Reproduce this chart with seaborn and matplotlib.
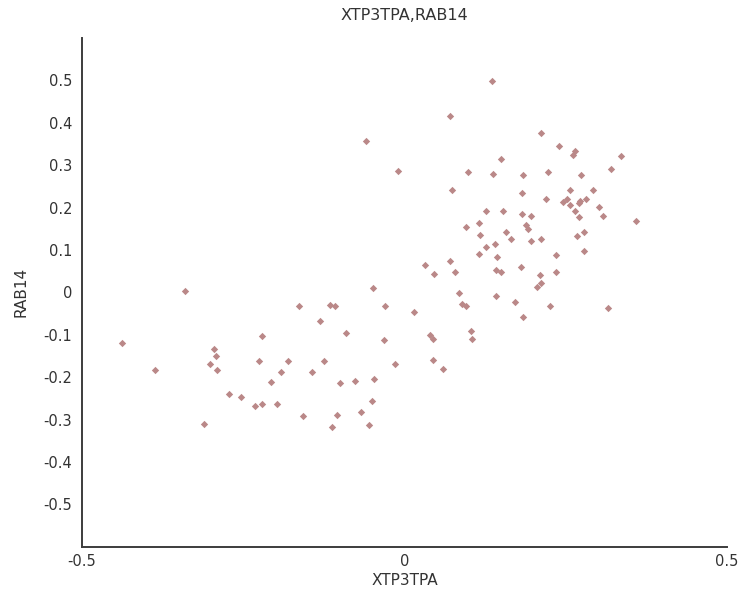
import matplotlib
matplotlib.use("Agg")
import matplotlib.pyplot as plt
import seaborn as sns
import pandas as pd

# XTP3TPA expression (x) versus RAB14 expression (y), one value per sample
xtp3tpa = [
    -0.341, -0.438, -0.387, -0.163, -0.221, -0.295, -0.293, -0.302, -0.291, -0.226,
    -0.180, -0.191, -0.207, -0.272, -0.253, -0.231, -0.221, -0.198, -0.311, -0.157,
    0.046, 0.078, -0.049, -0.116, -0.108, -0.030, 0.014, 0.085, 0.089, 0.095,
    -0.131, -0.090, -0.032, 0.039, 0.044, 0.103, 0.105, -0.125, -0.143, -0.100,
    -0.076, -0.048, -0.014, 0.044, 0.060, -0.051, -0.067, -0.104, -0.113, -0.055,
    0.136, 0.071, -0.060, -0.010, 0.099, 0.138, 0.150, 0.074, 0.126, 0.096,
    0.115, 0.117, 0.126, 0.141, 0.115, 0.143, 0.032, 0.071,
    0.212, 0.240, 0.265, 0.262, 0.336, 0.184, 0.223, 0.274, 0.320, 0.182,
    0.219, 0.256, 0.293, 0.246, 0.252, 0.256, 0.270, 0.272, 0.281, 0.264,
    0.302, 0.308, 0.271, 0.152, 0.182, 0.196, 0.359,
    0.188, 0.191, 0.158, 0.165, 0.196, 0.212, 0.267, 0.279, 0.279, 0.142,
    0.150, 0.180, 0.235, 0.235, 0.210, 0.212, 0.205, 0.142, 0.172, 0.226,
    0.316, 0.184,
]
rab14 = [
    0.002, -0.120, -0.183, -0.032, -0.103, -0.134, -0.149, -0.169, -0.183, -0.162,
    -0.162, -0.187, -0.211, -0.240, -0.246, -0.267, -0.264, -0.264, -0.310, -0.292,
    0.044, 0.048, 0.010, -0.029, -0.032, -0.032, -0.046, -0.001, -0.028, -0.033,
    -0.068, -0.096, -0.113, -0.101, -0.111, -0.092, -0.110, -0.162, -0.187, -0.215,
    -0.208, -0.204, -0.170, -0.159, -0.180, -0.257, -0.282, -0.289, -0.317, -0.313,
    0.498, 0.417, 0.357, 0.287, 0.283, 0.280, 0.314, 0.241, 0.192, 0.154,
    0.163, 0.136, 0.108, 0.115, 0.090, 0.083, 0.065, 0.073,
    0.377, 0.346, 0.333, 0.325, 0.322, 0.276, 0.283, 0.276, 0.290, 0.234,
    0.219, 0.241, 0.241, 0.213, 0.220, 0.205, 0.211, 0.215, 0.220, 0.192,
    0.202, 0.181, 0.178, 0.192, 0.185, 0.181, 0.168,
    0.160, 0.149, 0.143, 0.126, 0.122, 0.126, 0.132, 0.143, 0.097, 0.052,
    0.048, 0.059, 0.087, 0.048, 0.041, 0.021, 0.013, -0.008, -0.023, -0.033,
    -0.036, -0.057,
]

x_ticks = [-0.5, 0, 0.5]
x_tick_labels = ["-0.5", "0", "0.5"]
y_ticks = [-0.5, -0.4, -0.3, -0.2, -0.1, 0, 0.1, 0.2, 0.3, 0.4, 0.5]
y_tick_labels = ["-0.5", "-0.4", "-0.3", "-0.2", "-0.1", "0", "0.1", "0.2", "0.3", "0.4", "0.5"]

df = pd.DataFrame({"XTP3TPA": xtp3tpa, "RAB14": rab14})

sns.set_style("white")
plt.rcParams["font.family"] = ["DejaVu Sans"]
plt.rcParams["font.size"] = 11

axis_color = "#3c3c3c"
text_color = "#333333"
point_color = "#ba8888"

fig = plt.figure(figsize=(7.4, 5.99), dpi=100)
ax = fig.add_axes([0.1108, 0.0873, 0.8716, 0.8493])

sns.scatterplot(data=df, x="XTP3TPA", y="RAB14", ax=ax, marker="D",
                s=14, color=point_color, linewidth=0, legend=False)

ax.set_xlim(-0.5, 0.5)
ax.set_ylim(-0.6, 0.6)
ax.set_xticks(x_ticks)
ax.set_xticklabels(x_tick_labels)
ax.set_yticks(y_ticks)
ax.set_yticklabels(y_tick_labels)

sns.despine(ax=ax)
for side in ("left", "bottom"):
    ax.spines[side].set_color(axis_color)
    ax.spines[side].set_linewidth(1.4)

ax.tick_params(axis="both", direction="in", length=5, width=1.2,
               color=axis_color, labelcolor=text_color, labelsize=10.5)
ax.tick_params(axis="y", pad=7)
ax.tick_params(axis="x", pad=5)

ax.set_title("XTP3TPA,RAB14", fontsize=11.5, color=text_color, pad=13)
ax.set_xlabel("XTP3TPA", fontsize=11, color=text_color)
ax.set_ylabel("RAB14", fontsize=11, color=text_color)
ax.xaxis.set_label_coords(0.5, -0.052)
ax.yaxis.set_label_coords(-0.083, 0.5)

fig.savefig("out.png", dpi=100)
